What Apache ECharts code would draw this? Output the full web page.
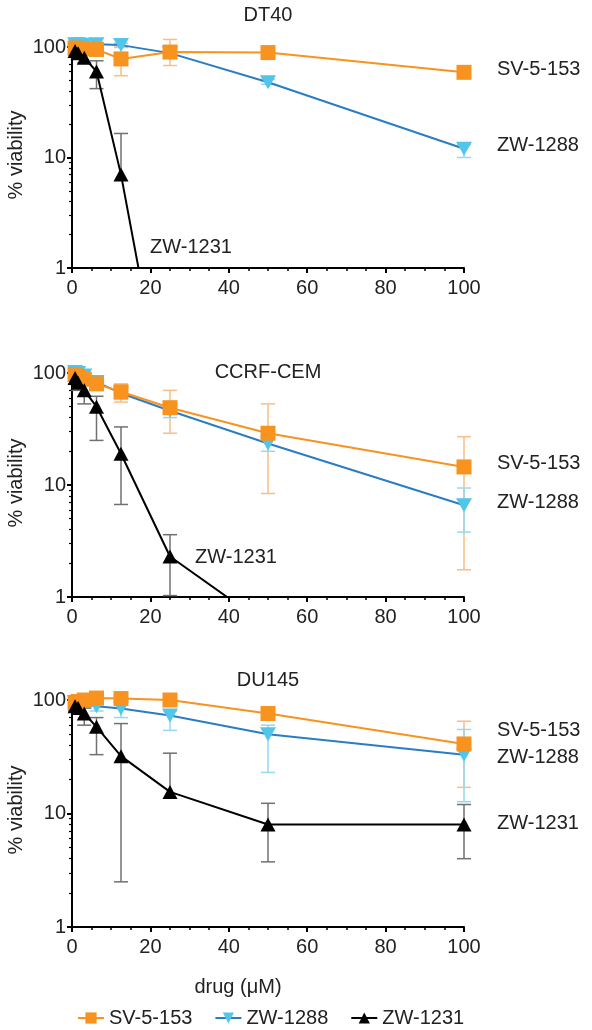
<!DOCTYPE html>
<html><head><meta charset="utf-8">
<script src="https://cdn.jsdelivr.net/npm/echarts@6/dist/echarts.min.js"></script>
<style>html,body{margin:0;padding:0;background:#fff}#c{width:592px;height:1030px}</style>
</head><body><div id="c"></div>
<script>
// ---------- data ----------
const conc = [0.78, 1.56, 3.13, 6.25, 12.5, 25, 50, 100];
const panelTitles = ['DT40', 'CCRF-CEM', 'DU145'];
const drugNames = ['SV-5-153', 'ZW-1288', 'ZW-1231'];
const xAxisTitle = 'drug (\u03bcM)';
const yAxisTitle = '% viability';
const yMinorTickValues = [2,3,4,5,6,7,8,9,20,30,40,50,60,70,80,90];

// DT40
const dt40_sv    = [98, 97, 96, 95, 78, 90, 89, 59];
const dt40_sv_lo = [92, 92, 91, 88, 55, 68, 83, 55];
const dt40_sv_hi = [103, 102, 102, 103, 100, 117, 95, 63];
const dt40_zw1288    = [106, 106, 105, 106, 104, 88, 48, 12];
const dt40_zw1288_lo = [101, 101, 100, 100, 99, 84, 46, 10];
const dt40_zw1288_hi = [110, 110, 109, 110, 108, 92, 51, 13];
const dt40_zw1231    = [92, 88, 80, 60, 7, 0.03, 0.01, 0.01];
const dt40_zw1231_lo = [84, 80, 72, 42, null, null, null, null];
const dt40_zw1231_hi = [99, 95, 88, 75, 16.5, null, null, null];

// CCRF-CEM
const ccrf_sv    = [97, 93, 88, 80, 68, 49, 29, 14.5];
const ccrf_sv_lo = [90, 85, 78, 70, 55, 29, 8.4, 1.75];
const ccrf_sv_hi = [102, 100, 97, 90, 80, 70, 53, 27];
const ccrf_zw1288    = [102, 100, 95, 83, 66, 46, 23.5, 6.6];
const ccrf_zw1288_lo = [96, 93, 88, 75, 58, 40, 20, 3.8];
const ccrf_zw1288_hi = [106, 105, 100, 90, 72, 52, 27, 9.4];
const ccrf_zw1231    = [90, 82, 70, 50, 19, 2.3, 0.55, 0.2];
const ccrf_zw1231_lo = [80, 70, 53, 25, 6.7, 1.03, null, null];
const ccrf_zw1231_hi = [98, 92, 82, 62, 33, 3.6, null, null];

// DU145
const du_sv    = [95, 97, 100, 104, 103, 100, 76, 41];
const du_sv_lo = [90, 92, 95, 98, 95, 92, 70, 17];
const du_sv_hi = [100, 102, 105, 108, 108, 106, 82, 65];
const du_zw1288    = [96, 95, 92, 88, 84, 73, 50, 33];
const du_zw1288_lo = [90, 88, 85, 80, 70, 54, 23, 12.7];
const du_zw1288_hi = [100, 100, 98, 95, 90, 80, 60, 55];
const du_zw1231    = [88, 85, 76, 58, 32, 15.5, 8, 8];
const du_zw1231_lo = [80, 75, 60, 33, 2.5, null, 3.75, 4.0];
const du_zw1231_hi = [95, 92, 85, 70, 62, 34, 12.3, 12];

const panels = [
  [[dt40_sv, dt40_sv_lo, dt40_sv_hi], [dt40_zw1288, dt40_zw1288_lo, dt40_zw1288_hi], [dt40_zw1231, dt40_zw1231_lo, dt40_zw1231_hi]],
  [[ccrf_sv, ccrf_sv_lo, ccrf_sv_hi], [ccrf_zw1288, ccrf_zw1288_lo, ccrf_zw1288_hi], [ccrf_zw1231, ccrf_zw1231_lo, ccrf_zw1231_hi]],
  [[du_sv, du_sv_lo, du_sv_hi], [du_zw1288, du_zw1288_lo, du_zw1288_hi], [du_zw1231, du_zw1231_lo, du_zw1231_hi]]
];

// ---------- styles / layout ----------
const FONT = '"Liberation Sans", Arial, sans-serif';
const TXT = '#222';
const gridTops = [47, 373, 700];
const gridHeights = [221, 224, 227];
const styles = [
  {color: '#F7931E', line: '#F7931E', err: '#F9BE85', symbol: 'rect', size: [15, 15], rotate: 0, clip: false, z: 4},
  {color: '#52C5EA', line: '#2A7DC4', err: '#93D9EF', symbol: 'triangle', size: [16, 14], rotate: 180, clip: false, z: 3},
  {color: '#000000', line: '#000000', err: '#707070', symbol: 'triangle', size: [15, 14], rotate: 0, clip: true, z: 5}
];
// annotation positions [x, y] per panel per drug
const annPos = [
  [[497, 69], [497, 145], [150, 247]],
  [[497, 463], [497, 502], [195, 557]],
  [[497, 730], [497, 757], [497, 823]]
];
const titleY = [15, 372, 680];
const yTitleY = [155, 483, 810];

const grid = [], xAxis = [], yAxis = [], series = [], graphic = [];

function errRender(color) {
  return function (params, api) {
    const x = api.value(0), lo = api.value(1), hi = api.value(2);
    const hasLo = api.value(3), hasHi = api.value(4);
    const pLo = api.coord([x, lo]), pHi = api.coord([x, hi]);
    const w = 7, st = {stroke: color, lineWidth: 1.5};
    const ch = [{type: 'line', shape: {x1: pLo[0], y1: pLo[1], x2: pHi[0], y2: pHi[1]}, style: st}];
    if (hasLo) ch.push({type: 'line', shape: {x1: pLo[0] - w, y1: pLo[1], x2: pLo[0] + w, y2: pLo[1]}, style: st});
    if (hasHi) ch.push({type: 'line', shape: {x1: pHi[0] - w, y1: pHi[1], x2: pHi[0] + w, y2: pHi[1]}, style: st});
    return {type: 'group', children: ch};
  };
}

for (let p = 0; p < 3; p++) {
  grid.push({left: 72, width: 392, top: gridTops[p], height: gridHeights[p], containLabel: false});
  xAxis.push({
    gridIndex: p, type: 'value', min: 0, max: 100, interval: 20,
    axisLine: {lineStyle: {color: '#000', width: 2}},
    axisTick: {length: 5, lineStyle: {color: '#000', width: 2}},
    minorTick: {show: true, splitNumber: 4, length: 3, lineStyle: {color: '#000', width: 1.5}},
    splitLine: {show: false},
    axisLabel: {fontSize: 20, color: TXT, fontFamily: FONT, margin: 10}
  });
  yAxis.push({
    gridIndex: p, type: 'log', logBase: 10, min: 1, max: 100, position: 'left',
    axisLine: {show: true, lineStyle: {color: '#000', width: 2}},
    axisTick: {show: true, length: 5, lineStyle: {color: '#000', width: 2}},
    splitLine: {show: false},
    axisLabel: {fontSize: 20, color: TXT, fontFamily: FONT, margin: 6}
  });
}
for (let p = 0; p < 3; p++) {
  yAxis.push({
    gridIndex: p, type: 'log', logBase: 10, min: 1, max: 100, position: 'left', offset: 0,
    axisLine: {show: false},
    axisTick: {show: true, length: 3, customValues: yMinorTickValues, lineStyle: {color: '#000', width: 1.2}},
    axisLabel: {show: false},
    splitLine: {show: false}
  });
}

for (let p = 0; p < 3; p++) {
  for (let d = 0; d < 3; d++) {
    const [vals, lo, hi] = panels[p][d];
    const s = styles[d];
    const errData = [];
    for (let i = 0; i < conc.length; i++) {
      if (lo[i] == null && hi[i] == null) continue;
      errData.push([conc[i], lo[i] == null ? vals[i] : lo[i], hi[i] == null ? vals[i] : hi[i], lo[i] == null ? 0 : 1, hi[i] == null ? 0 : 1]);
    }
    series.push({
      type: 'custom', name: drugNames[d] + ' err', xAxisIndex: p, yAxisIndex: p,
      renderItem: errRender(s.err), data: errData, encode: {x: 0, y: [1, 2]},
      z: 1, silent: true, clip: false
    });
    series.push({
      type: 'line', name: drugNames[d], xAxisIndex: p, yAxisIndex: p,
      data: conc.map((c, i) => [c, vals[i]]),
      symbol: s.symbol, symbolSize: s.size, symbolRotate: s.rotate,
      itemStyle: {color: s.color}, lineStyle: {color: s.line, width: 2},
      clip: s.clip, z: s.z, animation: false
    });
  }
  graphic.push({type: 'text', x: 268, y: titleY[p],
    style: {text: panelTitles[p], font: '20px ' + FONT, fill: TXT, align: 'center', verticalAlign: 'middle'}});
  graphic.push({type: 'text', x: 16, y: yTitleY[p], rotation: Math.PI / 2,
    style: {text: yAxisTitle, font: '20px ' + FONT, fill: TXT, align: 'center', verticalAlign: 'middle'}});
  for (let d = 0; d < 3; d++) {
    graphic.push({type: 'text', x: annPos[p][d][0], y: annPos[p][d][1],
      style: {text: drugNames[d], font: '20px ' + FONT, fill: TXT, align: 'left', verticalAlign: 'middle'}});
  }
}
graphic.push({type: 'text', x: 238, y: 987,
  style: {text: xAxisTitle, font: '20px ' + FONT, fill: TXT, align: 'center', verticalAlign: 'middle'}});

const chart = echarts.init(document.getElementById('c'), null, {renderer: 'canvas'});
chart.setOption({
  animation: false,
  backgroundColor: '#fff',
  grid, xAxis, yAxis, series, graphic,
  legend: {
    data: drugNames, left: 72, top: 1003, itemWidth: 26, itemHeight: 14, itemGap: 22,
    textStyle: {fontSize: 20, color: TXT, fontFamily: FONT}
  }
});
</script></body></html>
